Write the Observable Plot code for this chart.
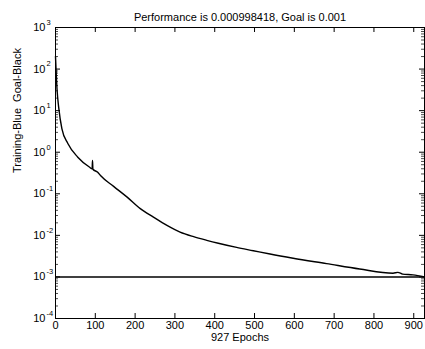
<!DOCTYPE html>
<html>
<head>
<meta charset="utf-8">
<script src="https://cdn.jsdelivr.net/npm/d3@7"></script>
<script src="https://cdn.jsdelivr.net/npm/@observablehq/plot@0.6"></script>
<style>
  html, body { margin: 0; padding: 0; background: #fff; }
  #chart { width: 425px; height: 349px; }
</style>
</head>
<body>
<div id="chart"></div>
<script>
// ---- data ----
const titleText = "Performance is 0.000998418, Goal is 0.001";
const xLabelText = "927 Epochs";
const yLabelText = "Training-Blue  Goal-Black";

const epochs = [0, 4, 8, 16, 31, 56, 85, 92, 93, 94, 106, 113, 146, 180, 213, 246, 280, 313, 347, 380, 409, 455, 497, 539, 597, 681, 764, 848, 860, 872, 898, 927];
const performance = [200, 31, 12, 3.7, 1.62, 0.76, 0.44, 0.40, 0.63, 0.39, 0.33, 0.275, 0.151, 0.083, 0.044, 0.0275, 0.0174, 0.012, 0.0093, 0.0076, 0.00646, 0.00513, 0.00427, 0.00355, 0.00282, 0.00209, 0.00155, 0.00123, 0.00129, 0.00117, 0.00112, 0.000998418];
const goal = 0.001;

const xTicks = [0, 100, 200, 300, 400, 500, 600, 700, 800, 900];
const yExponents = [3, 2, 1, 0, -1, -2, -3, -4];
const xDomain = [0, 927];
const yDomain = [1e-4, 1e3];

// ---- derived ----
const training = epochs.map((e, i) => ({epoch: e, perf: performance[i]}));
const yMajor = yExponents.map(e => 10 ** e);
const yMinor = [];
for (const e of yExponents.slice(1)) for (let k = 2; k <= 9; k++) yMinor.push(k * 10 ** e);

const W = 425, H = 349;
const mL = 55, mR = 1, mT = 27, mB = 31;
const fW = W - mL - mR, fH = H - mT - mB;
const font = "'Liberation Sans', Arial, Helvetica, sans-serif";

const chart = Plot.plot({
  width: W, height: H,
  marginLeft: mL, marginRight: mR, marginTop: mT, marginBottom: mB,
  style: {fontFamily: font, fontSize: "11px", background: "#fff", color: "#000"},
  x: {domain: xDomain, axis: null},
  y: {type: "log", domain: yDomain, axis: null},
  marks: [
    // inward ticks, bottom and top
    Plot.ruleX(xTicks, {x: d => d, insetTop: fH - 5, stroke: "#000"}),
    Plot.ruleX(xTicks, {x: d => d, insetBottom: fH - 5, stroke: "#000"}),
    // inward major ticks, left and right
    Plot.ruleY(yMajor, {y: d => d, insetRight: fW - 5, stroke: "#000"}),
    Plot.ruleY(yMajor, {y: d => d, insetLeft: fW - 5, stroke: "#000"}),
    // minor log ticks
    Plot.ruleY(yMinor, {y: d => d, insetRight: fW - 3, stroke: "#000", strokeOpacity: 0.7}),
    Plot.ruleY(yMinor, {y: d => d, insetLeft: fW - 3, stroke: "#000", strokeOpacity: 0.7}),
    // goal line
    Plot.ruleY([goal], {y: d => d, stroke: "#000", strokeWidth: 1.5}),
    // training curve
    Plot.line(training, {x: "epoch", y: "perf", stroke: "#000", strokeWidth: 1.4, curve: "monotone-x"}),
    Plot.frame({stroke: "#000"}),
    // x tick labels
    Plot.text(xTicks, {x: d => d, frameAnchor: "bottom", dy: 10, text: d => String(d), fontSize: 11}),
    // y tick labels 10^e
    Plot.text(yExponents, {y: e => 10 ** e, frameAnchor: "left", dx: -10, textAnchor: "end", text: () => "10", fontSize: 11}),
    Plot.text(yExponents, {y: e => 10 ** e, frameAnchor: "left", dx: -9, dy: -5, textAnchor: "start", text: e => String(e), fontSize: 7.5}),
    // title and axis labels
    Plot.text([titleText], {frameAnchor: "top", dy: -14, text: d => d, fontSize: 11}),
    Plot.text([xLabelText], {frameAnchor: "bottom", dy: 22, text: d => d, fontSize: 11}),
    Plot.text([yLabelText], {frameAnchor: "left", dx: -38, rotate: -90, text: d => d, fontSize: 11})
  ]
});
document.getElementById("chart").append(chart);
</script>
</body>
</html>
